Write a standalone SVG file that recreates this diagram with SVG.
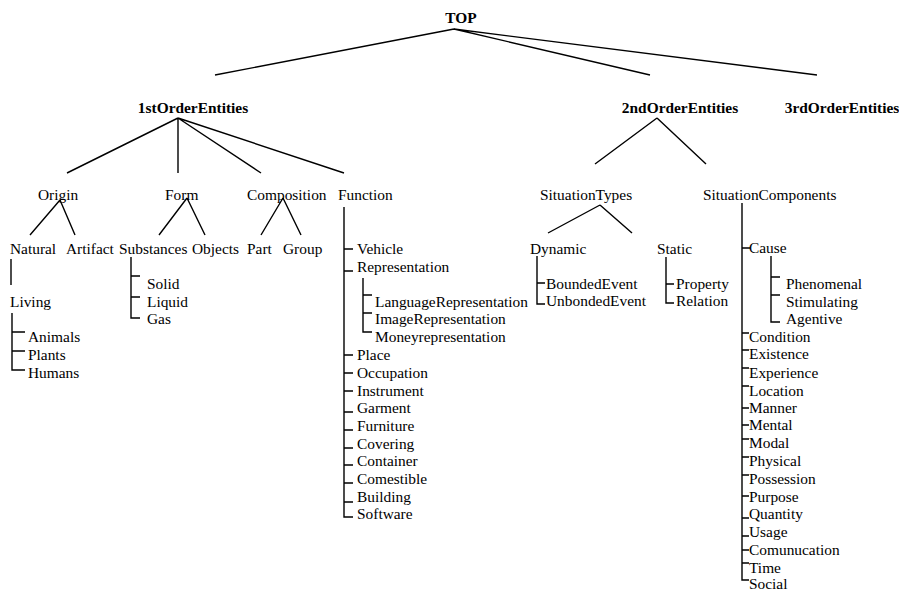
<svg xmlns="http://www.w3.org/2000/svg" width="899" height="591" viewBox="0 0 899 591" font-family="'Liberation Serif', 'DejaVu Serif', serif" font-size="15.4">
<style>
text{font-family:'Liberation Serif','DejaVu Serif',serif;font-size:15.4px;fill:#000}
.b{font-weight:bold}
.m{text-anchor:middle}
#connectors path{fill:none;stroke:#000;stroke-width:1.4}
</style>
<rect width="899" height="591" fill="#fff"/>
<g id="connectors">
<path d="M454 29L215 75M454 29L650 75M454 29L817 75"/>
<path d="M178 118L67 173M178 118L178 173M178 118L261 173M178 118L344 173"/>
<path d="M657 118L595 164M657 118L706 164"/>
<path d="M60 200L30 235M60 200L75 235M187 198L159 235M187 198L205 235M283 198L261 235M283 198L301 235"/>
<path d="M11 259V285"/>
<path d="M12 313V370H25M12 332H25M12 351H25"/>
<path d="M131 257V318H140M131 276H140M131 297H140"/>
<path d="M344 207V517H353M344 249H353M344 271H353M344 355H353M344 373H353M344 391H353M344 412H353M344 430H353M344 448H353M344 465H353M344 483H353M344 502H353"/>
<path d="M363 278V332H372M363 295H372M363 313H372"/>
<path d="M600 205L548 233M600 205L632 233"/>
<path d="M537 256V304H545M537 283H545"/>
<path d="M666 257V303H674M666 284H674"/>
<path d="M742 203V580H749M742 248H750M742 333H749M742 350H749M742 368H749M742 386H749M742 408H749M742 425H749M742 439H749M742 457H749M742 475H749M742 496H749M742 518H749M742 536H749M742 550H749M742 563H749"/>
<path d="M771 256V322H780M771 277H780M771 295H780"/>
</g>
<g id="n-top"><text class="b m" x="461" y="23">TOP</text></g>
<g id="n-1st"><text class="b m" x="193" y="113">1stOrderEntities</text></g>
<g id="n-2nd"><text class="b m" x="680" y="113">2ndOrderEntities</text></g>
<g id="n-3rd"><text class="b m" x="842" y="113">3rdOrderEntities</text></g>
<g id="n-origin"><text x="38" y="200">Origin</text></g>
<g id="n-form"><text x="165" y="200">Form</text></g>
<g id="n-composition"><text x="247" y="200">Composition</text></g>
<g id="n-function"><text x="338" y="200">Function</text></g>
<g id="n-situationtypes"><text x="540" y="200">SituationTypes</text></g>
<g id="n-situationcomponents"><text x="703" y="200">SituationComponents</text></g>
<g id="n-natural"><text x="10" y="254">Natural</text></g>
<g id="n-artifact"><text x="66" y="254">Artifact</text></g>
<g id="n-substances"><text x="119" y="254">Substances</text></g>
<g id="n-objects"><text x="192" y="254">Objects</text></g>
<g id="n-part"><text x="247" y="254">Part</text></g>
<g id="n-group"><text x="283" y="254">Group</text></g>
<g id="n-living"><text x="10" y="307">Living</text></g>
<g id="n-living-kids"><text x="28" y="342">Animals</text><text x="28" y="360">Plants</text><text x="28" y="378">Humans</text></g>
<g id="n-substance-kids"><text x="147" y="289">Solid</text><text x="147" y="307">Liquid</text><text x="147" y="324">Gas</text></g>
<g id="n-function-kids">
<text x="357" y="254">Vehicle</text>
<text x="357" y="272">Representation</text>
<text x="375" y="307">LanguageRepresentation</text>
<text x="375" y="324">ImageRepresentation</text>
<text x="375" y="342">Moneyrepresentation</text>
<text x="357" y="360">Place</text>
<text x="357" y="378">Occupation</text>
<text x="357" y="396">Instrument</text>
<text x="357" y="413">Garment</text>
<text x="357" y="431">Furniture</text>
<text x="357" y="449">Covering</text>
<text x="357" y="466">Container</text>
<text x="357" y="484">Comestible</text>
<text x="357" y="502">Building</text>
<text x="357" y="519">Software</text>
</g>
<g id="n-dynamic"><text x="530" y="254">Dynamic</text><text x="546" y="289">BoundedEvent</text><text x="546" y="306">UnbondedEvent</text></g>
<g id="n-static"><text x="657" y="254">Static</text><text x="676" y="289">Property</text><text x="676" y="306">Relation</text></g>
<g id="n-components-kids">
<text x="749" y="253">Cause</text>
<text x="786" y="289">Phenomenal</text>
<text x="786" y="307">Stimulating</text>
<text x="786" y="324">Agentive</text>
<text x="749" y="342">Condition</text>
<text x="749" y="359">Existence</text>
<text x="749" y="378">Experience</text>
<text x="749" y="396">Location</text>
<text x="749" y="413">Manner</text>
<text x="749" y="430">Mental</text>
<text x="749" y="448">Modal</text>
<text x="749" y="466">Physical</text>
<text x="749" y="484">Possession</text>
<text x="749" y="502">Purpose</text>
<text x="749" y="519">Quantity</text>
<text x="749" y="537">Usage</text>
<text x="749" y="555">Comunucation</text>
<text x="749" y="573">Time</text>
<text x="749" y="589">Social</text>
</g>
</svg>
